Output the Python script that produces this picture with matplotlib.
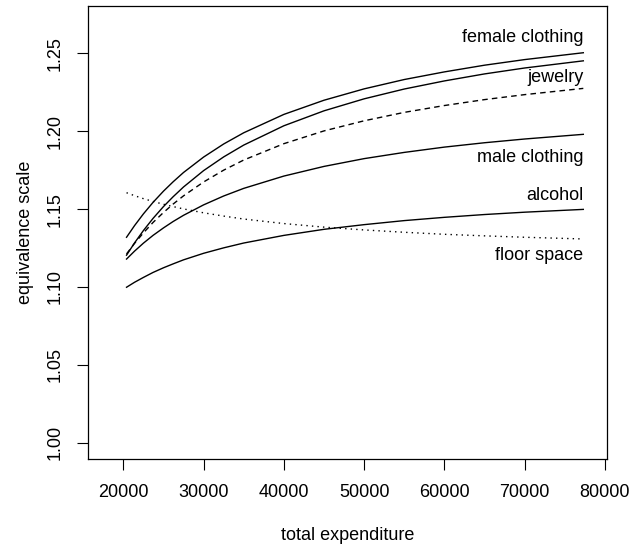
import matplotlib
matplotlib.use('Agg')
import matplotlib.pyplot as plt

# total expenditure grid
expenditure = [20400, 21400, 22500, 23700, 25000, 26200, 27500, 30000, 32500,
               35000, 40000, 45000, 50000, 55000, 60000, 65000, 70000, 77300]

# equivalence scale curves
female_clothing = [1.1319, 1.1394, 1.1469, 1.1543, 1.1615, 1.1675, 1.1735,
                   1.1834, 1.1918, 1.1990, 1.2108, 1.2199, 1.2272, 1.2332,
                   1.2381, 1.2424, 1.2460, 1.2504]
clothing_2 = [1.1204, 1.1283, 1.1362, 1.1440, 1.1516, 1.1579, 1.1642,
              1.1747, 1.1835, 1.1911, 1.2035, 1.2131, 1.2208, 1.2271,
              1.2323, 1.2368, 1.2406, 1.2452]
jewelry = [1.1212, 1.1280, 1.1347, 1.1414, 1.1478, 1.1532, 1.1585,
           1.1674, 1.1750, 1.1815, 1.1920, 1.2002, 1.2067, 1.2121,
           1.2165, 1.2203, 1.2235, 1.2275]
male_clothing = [1.1179, 1.1230, 1.1281, 1.1331, 1.1379, 1.1420, 1.1460,
                 1.1527, 1.1584, 1.1633, 1.1712, 1.1774, 1.1824, 1.1864,
                 1.1898, 1.1926, 1.1950, 1.1980]
alcohol = [1.0998, 1.1030, 1.1061, 1.1093, 1.1123, 1.1148, 1.1174,
           1.1216, 1.1251, 1.1282, 1.1331, 1.1370, 1.1400, 1.1426,
           1.1447, 1.1465, 1.1480, 1.1498]
floor_space = [1.1605, 1.1586, 1.1567, 1.1549, 1.1531, 1.1516, 1.1501,
               1.1476, 1.1455, 1.1436, 1.1407, 1.1384, 1.1366, 1.1351,
               1.1338, 1.1328, 1.1319, 1.1308]

labels = ['female clothing', 'jewelry', 'male clothing', 'alcohol', 'floor space']
label_y = [1.2605, 1.2345, 1.1828, 1.1584, 1.1205]

x_ticks = [20000, 30000, 40000, 50000, 60000, 70000, 80000]
y_ticks = [1.00, 1.05, 1.10, 1.15, 1.20, 1.25]

plt.rcParams['font.family'] = ['Liberation Sans', 'DejaVu Sans']

fig = plt.figure(figsize=(6.3, 5.47), dpi=100)
ax = fig.add_axes([0.1402, 0.1603, 0.8228, 0.8287])

lw = 1.0
style = dict(color='black', lw=lw, solid_joinstyle='round')
ax.plot(expenditure, female_clothing, **style)
ax.plot(expenditure, clothing_2, **style)
ax.plot(expenditure, jewelry, linestyle=(0, (4, 3)), **style)
ax.plot(expenditure, male_clothing, **style)
ax.plot(expenditure, alcohol, **style)
ax.plot(expenditure, floor_space, linestyle=(0, (1, 3)), **style)

for txt, y in zip(labels, label_y):
    ax.text(expenditure[-1], y, txt, ha='right', va='center', fontsize=13)

ax.set_xlim(15640, 80212)
ax.set_ylim(0.9893, 1.2804)
ax.set_xticks(x_ticks)
ax.set_xticklabels([str(v) for v in x_ticks])
ax.set_yticks(y_ticks)
ax.set_yticklabels(['%.2f' % v for v in y_ticks], rotation=90, va='center')
ax.tick_params(direction='out', length=8, width=0.8, labelsize=13, pad=10)

for s in ax.spines.values():
    s.set_linewidth(0.9)

ax.set_xlabel('total expenditure', fontsize=13)
ax.set_ylabel('equivalence scale', fontsize=13)
ax.xaxis.set_label_coords(0.5, -0.169)
ax.yaxis.set_label_coords(-0.122, 0.5)
ax.xaxis.label.set_va('center')
ax.yaxis.label.set_va('center')

plt.savefig('out.png', dpi=100)
